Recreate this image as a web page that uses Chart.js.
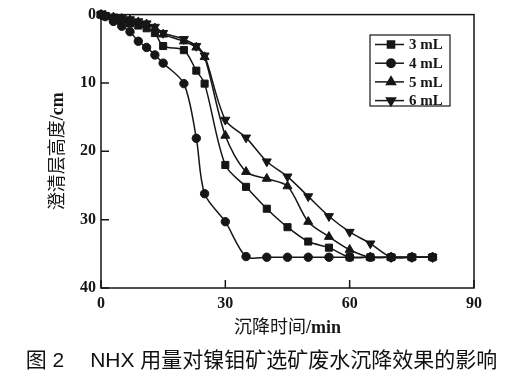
<!DOCTYPE html>
<html>
<head>
<meta charset="utf-8">
<script src="https://cdn.jsdelivr.net/npm/chart.js@4/dist/chart.umd.min.js"></script>
<style>
  html, body { margin: 0; padding: 0; background: #fff; }
  #wrap { position: relative; width: 523px; height: 382px; }
  #caption { position: absolute; left: 0; width: 523px; top: 347px; text-align: center;
    font-family: 'Liberation Sans', 'Noto Sans CJK SC', sans-serif; font-size: 21px; color: #111; line-height: 26px; white-space: nowrap; }
</style>
</head>
<body>
<div id="wrap">
  <canvas id="c" width="523" height="382"></canvas>
  <div id="caption">图 2<span style="display:inline-block;width:26px"></span>NHX 用量对镍钼矿选矿废水沉降效果的影响</div>
</div>
<script>
// ---- data ----
const minutes = [0, 1, 3, 5, 7, 9, 11, 13, 15, 20, 23, 25, 30, 35, 40, 45, 50, 55, 60, 65, 70, 75, 80];
const height3mL = [0, 0.2, 0.6, 1.0, 1.3, 1.6, 2.0, 2.7, 4.6, 5.2, 8.2, 10.1, 22.0, 25.2, 28.4, 31.1, 33.2, 34.1, 35.5, 35.5, 35.5, 35.5, 35.5];
const height4mL = [0, 0.3, 1.0, 1.7, 2.5, 3.9, 4.8, 5.9, 7.1, 10.1, 18.1, 26.2, 30.3, 35.4, 35.5, 35.5, 35.5, 35.5, 35.5, 35.5, 35.5, 35.5, 35.5];
const height5mL = [0, 0.1, 0.4, 0.6, 0.8, 1.1, 1.4, 2.0, 2.9, 3.9, 4.8, 6.2, 17.7, 23.0, 24.0, 25.1, 30.3, 32.5, 34.4, 35.5, 35.5, 35.5, 35.5];
const height6mL = [0, 0.1, 0.3, 0.5, 0.7, 1.0, 1.3, 1.8, 2.7, 3.6, 4.6, 6.0, 15.4, 18.0, 21.5, 23.7, 26.6, 29.5, 31.8, 33.5, 35.5, 35.5, 35.5];
const seriesLabels = ['3 mL', '4 mL', '5 mL', '6 mL'];
const xTicks = [0, 30, 60, 90];
const yTicks = [0, 10, 20, 30, 40];
const xTitle = ['沉降时间', '/min'];
const yTitle = ['澄清层高度', '/cm'];

const INK = '#161616';
const serif = "'Liberation Serif', 'Noto Sans CJK SC', serif";

function pts(vals) { return minutes.map((m, i) => ({ x: m, y: vals[i] })); }

const styles = [
  { pointStyle: 'rect', radius: 5, rotation: 0 },
  { pointStyle: 'circle', radius: 4.2, rotation: 0 },
  { pointStyle: 'triangle', radius: 5.2, rotation: 0 },
  { pointStyle: 'triangle', radius: 5.2, rotation: 180 }
];
const seriesVals = [height3mL, height4mL, height5mL, height6mL];

const datasets = seriesVals.map((v, i) => ({
  label: seriesLabels[i],
  data: pts(v),
  borderColor: INK,
  backgroundColor: INK,
  borderWidth: 1.5,
  pointStyle: styles[i].pointStyle,
  pointRadius: styles[i].radius,
  pointRotation: styles[i].rotation,
  pointBorderWidth: 1,
  pointBackgroundColor: INK,
  pointBorderColor: INK,
  tension: 0.3,
  clip: false
}));

function drawMixed(ctx, parts, cx, cy, rotate) {
  const f1 = "18px " + serif, f2 = "bold 18px " + serif;
  ctx.font = f1; const w1 = ctx.measureText(parts[0]).width;
  ctx.font = f2; const w2 = ctx.measureText(parts[1]).width;
  const total = w1 + w2;
  ctx.save();
  ctx.translate(cx, cy);
  if (rotate) ctx.rotate(-Math.PI / 2);
  ctx.textBaseline = 'middle';
  ctx.textAlign = 'left';
  ctx.fillStyle = INK;
  ctx.font = f1; ctx.fillText(parts[0], -total / 2, 0);
  ctx.font = f2; ctx.fillText(parts[1], -total / 2 + w1, 0);
  ctx.restore();
}

const frame = {
  id: 'frame',
  afterDraw(chart) {
    const { ctx, chartArea: a, scales } = chart;
    ctx.save();
    ctx.strokeStyle = INK;
    ctx.lineWidth = 1.5;
    ctx.strokeRect(a.left, a.top, a.right - a.left, a.bottom - a.top);
    ctx.beginPath();
    yTicks.forEach(t => {
      const y = scales.y.getPixelForValue(t);
      ctx.moveTo(a.left, y); ctx.lineTo(a.left + 8, y);
    });
    xTicks.forEach(t => {
      const x = scales.x.getPixelForValue(t);
      ctx.moveTo(x, a.bottom); ctx.lineTo(x, a.bottom - 8);
    });
    ctx.stroke();

    // axis titles
    drawMixed(ctx, xTitle, (a.left + a.right) / 2, 328, false);
    drawMixed(ctx, yTitle, 58, (a.top + a.bottom) / 2, true);

    // legend
    const bx = 370, by = 35, bw = 80, bh = 71;
    ctx.lineWidth = 1.2;
    ctx.strokeRect(bx, by, bw, bh);
    ctx.font = "bold 15px " + serif;
    ctx.textBaseline = 'middle';
    ctx.textAlign = 'left';
    chart.data.datasets.forEach((ds, i) => {
      const y = by + 9.5 + i * 18.7;
      ctx.beginPath();
      ctx.lineWidth = 1.5;
      ctx.moveTo(bx + 5, y); ctx.lineTo(bx + 34, y);
      ctx.stroke();
      ctx.fillStyle = INK;
      Chart.helpers.drawPoint(ctx, {
        pointStyle: ds.pointStyle, radius: ds.pointRadius, rotation: ds.pointRotation, borderWidth: 1
      }, bx + 21, y);
      ctx.fillText(ds.label, bx + 39, y + 1);
    });
    ctx.restore();
  }
};

new Chart(document.getElementById('c'), {
  type: 'line',
  data: { datasets },
  options: {
    responsive: false,
    animation: false,
    layout: { padding: { left: 0, right: 49, top: 10, bottom: 0 } },
    plugins: { legend: { display: false }, tooltip: { enabled: false } },
    scales: {
      x: {
        type: 'linear', min: 0, max: 90,
        afterBuildTicks: s => { s.ticks = xTicks.map(v => ({ value: v })); },
        afterFit: s => { s.height = 94; },
        grid: { display: false, drawTicks: false },
        border: { display: false },
        ticks: { color: INK, padding: 6, font: { family: serif, size: 16, weight: 'bold' }, maxRotation: 0 },
        title: { display: false }
      },
      y: {
        type: 'linear', min: 0, max: 40, reverse: true,
        afterBuildTicks: s => { s.ticks = yTicks.map(v => ({ value: v })); },
        afterFit: s => { s.width = 101; },
        grid: { display: false, drawTicks: false },
        border: { display: false },
        ticks: { color: INK, padding: 5, font: { family: serif, size: 16, weight: 'bold' } },
        title: { display: false }
      }
    }
  },
  plugins: [frame]
});
</script>
</body>
</html>
